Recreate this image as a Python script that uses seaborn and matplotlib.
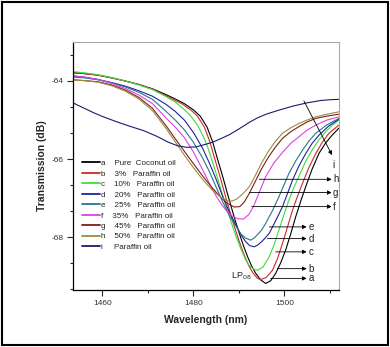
import matplotlib
matplotlib.use('Agg')
import matplotlib.pyplot as plt
import seaborn as sns
from matplotlib.ticker import AutoMinorLocator
from matplotlib.patches import Rectangle

# wavelength (nm) / transmission (dB)

# a  pure coconut oil
wl_a = [1453.5, 1456, 1459, 1462, 1465, 1468, 1471, 1474, 1476, 1478, 1480, 1481.5, 1483, 1484.2,
        1485.3, 1486.4, 1487.4, 1488.3, 1489.2, 1490.1, 1491, 1491.9, 1492.8, 1493.7, 1494.8, 1495.9,
        1497, 1498.1, 1499.2, 1500.3, 1501.4, 1502.5, 1503.6, 1504.7, 1506.1, 1507.6, 1509, 1510.5, 1512]
tr_a = [-63.79, -63.81, -63.85, -63.92, -64.0, -64.09, -64.2, -64.35, -64.46, -64.58, -64.74, -64.9, -65.18, -65.55,
        -66.0, -66.43, -66.85, -67.22, -67.58, -67.91, -68.22, -68.5, -68.74, -68.93, -69.1, -69.19,
        -69.12, -68.93, -68.66, -68.33, -67.92, -67.48, -67.08, -66.71, -66.26, -65.86, -65.6, -65.39, -65.21]

# b  3%
wl_b = [1453.5, 1456, 1459, 1462, 1465, 1468, 1471, 1474, 1476, 1477.4, 1479.4, 1480.9, 1482.4, 1483.6,
        1484.7, 1485.8, 1486.8, 1487.7, 1488.6, 1489.5, 1490.4, 1491.3, 1492.2, 1493.1, 1494, 1494.7,
        1496, 1497.4, 1498.5, 1499.6, 1500.7, 1501.8, 1502.9, 1504, 1505.4, 1506.9, 1508.3, 1509.8, 1512]
tr_b = [-63.79, -63.81, -63.85, -63.92, -64.0, -64.09, -64.21, -64.38, -64.5, -64.58, -64.74, -64.9, -65.18, -65.55,
        -66.0, -66.43, -66.85, -67.22, -67.58, -67.91, -68.22, -68.5, -68.74, -68.92, -69.05, -69.09,
        -69.04, -68.85, -68.55, -68.16, -67.74, -67.31, -66.95, -66.62, -66.22, -65.86, -65.58, -65.34, -65.13]

# c  10%
wl_c = [1453.5, 1456, 1459, 1462, 1465, 1468, 1471, 1474, 1476, 1478, 1479.5, 1481, 1482, 1483,
        1484, 1485, 1486.1, 1487.2, 1488.3, 1489.4, 1490.5, 1491.5, 1492.3, 1493.2, 1494.1, 1495.3,
        1496.7, 1497.8, 1498.8, 1499.9, 1501, 1502.1, 1503.2, 1504.6, 1506.1, 1507.6, 1509.1, 1510.5, 1512]
tr_c = [-63.76, -63.79, -63.84, -63.91, -64.0, -64.1, -64.22, -64.4, -64.54, -64.73, -64.91, -65.15, -65.38, -65.65,
        -66.0, -66.37, -66.8, -67.22, -67.62, -67.99, -68.32, -68.59, -68.73, -68.82, -68.85, -68.77,
        -68.5, -68.18, -67.82, -67.43, -67.05, -66.73, -66.45, -66.08, -65.77, -65.51, -65.3, -65.14, -65.0]

# d  20%
wl_d = [1453.5, 1456, 1459, 1462, 1465, 1468, 1471, 1474, 1476, 1478, 1480, 1482, 1483.5, 1485,
        1486.4, 1487.9, 1489.4, 1490.5, 1491.5, 1492.4, 1493.4, 1494.2, 1495, 1495.9, 1496.7, 1498.1,
        1499.6, 1500.7, 1501.8, 1503.2, 1504.7, 1506.1, 1507.6, 1509.8, 1512]
tr_d = [-63.87, -63.9, -63.96, -64.04, -64.13, -64.25, -64.39, -64.6, -64.78, -65.0, -65.32, -65.72, -66.1, -66.52,
        -66.95, -67.36, -67.7, -67.95, -68.12, -68.22, -68.25, -68.2, -68.12, -68.01, -67.9, -67.58,
        -67.22, -66.88, -66.54, -66.18, -65.86, -65.6, -65.39, -65.15, -64.98]

# e  25%
wl_e = [1453.5, 1456, 1459, 1462, 1465, 1468, 1471, 1474, 1476, 1478, 1480, 1482, 1483.5, 1485,
        1486.4, 1487.9, 1489.4, 1490.5, 1491.5, 1492.6, 1493.3, 1494, 1495, 1495.9, 1497.4, 1498.8,
        1499.9, 1501, 1502.5, 1504, 1505.4, 1506.9, 1509.4, 1512]
tr_e = [-63.9, -63.92, -63.97, -64.05, -64.15, -64.29, -64.47, -64.78, -65.0, -65.25, -65.57, -65.97, -66.32, -66.72,
        -67.09, -67.45, -67.73, -67.93, -68.03, -68.08, -68.03, -67.95, -67.82, -67.65, -67.32, -66.97,
        -66.67, -66.37, -66.05, -65.77, -65.54, -65.34, -65.12, -64.96]

# f  35%
wl_f = [1453.5, 1456, 1459, 1462, 1465, 1468, 1471, 1474, 1476, 1478, 1480, 1482, 1483.5, 1485,
        1486.4, 1487.5, 1488.6, 1489.8, 1491, 1492.2, 1493.2, 1494.5, 1495.9, 1497.7, 1499.6, 1501.4,
        1503.2, 1505, 1506.9, 1509.4, 1512]
tr_f = [-63.87, -63.9, -63.96, -64.06, -64.19, -64.36, -64.58, -64.95, -65.18, -65.45, -65.82, -66.27, -66.62, -66.95,
        -67.2, -67.36, -67.47, -67.53, -67.54, -67.42, -67.22, -66.85, -66.45, -66.1, -65.83, -65.6,
        -65.43, -65.26, -65.13, -65.0, -64.92]

# g  45%
wl_g = [1453.5, 1456, 1459, 1462, 1465, 1468, 1471, 1474, 1476, 1478, 1480, 1482, 1484, 1486,
        1487.5, 1489, 1490.2, 1491.2, 1492.3, 1493.5, 1495, 1496.5, 1498, 1499.6, 1501.4, 1503.2,
        1505, 1506.9, 1509.4, 1512]
tr_g = [-63.97, -63.99, -64.02, -64.1, -64.23, -64.42, -64.7, -65.15, -65.48, -65.8, -66.12, -66.43, -66.72, -66.98,
        -67.14, -67.23, -67.22, -67.1, -66.88, -66.6, -66.25, -65.95, -65.7, -65.47, -65.3, -65.17,
        -65.05, -64.96, -64.9, -64.85]

# h  50%
wl_h = [1453.5, 1456, 1459, 1462, 1465, 1468, 1471, 1474, 1476, 1478, 1480, 1482, 1484, 1486,
        1487.5, 1488.5, 1489.6, 1490.8, 1492.3, 1493.5, 1495, 1496.5, 1498, 1499.6, 1501.4, 1503.2,
        1505, 1506.9, 1509.4, 1512]
tr_h = [-63.97, -63.99, -64.03, -64.12, -64.26, -64.46, -64.76, -65.22, -65.56, -65.9, -66.22, -66.52, -66.78, -66.98,
        -67.07, -67.08, -67.02, -66.9, -66.71, -66.45, -66.1, -65.8, -65.55, -65.34, -65.2, -65.09,
        -65.0, -64.92, -64.85, -64.79]

# i  paraffin oil
wl_i = [1453.5, 1456, 1458, 1460, 1463, 1466, 1469, 1472, 1474.5, 1476.5, 1478.5, 1480.5, 1482.5,
        1484.2, 1486, 1488, 1490, 1492.3, 1494, 1496, 1499, 1502, 1505, 1508, 1510, 1512]
tr_i = [-64.56, -64.7, -64.81, -64.91, -65.04, -65.16, -65.27, -65.42, -65.57, -65.66, -65.7, -65.69, -65.63,
        -65.57, -65.48, -65.37, -65.23, -65.06, -64.95, -64.85, -64.74, -64.64, -64.56, -64.5, -64.48, -64.47]

keys = ['a', 'b', 'c', 'd', 'e', 'f', 'g', 'h', 'i']
names = ['Pure  Coconut oil', '3%   Paraffin oil', '10%   Paraffin oil', '20%   Paraffin oil',
         '25%   Paraffin oil', '35%   Paraffin oil', '45%   Paraffin oil', '50%   Paraffin oil',
         'Paraffin oil']
colors = ['#000000', '#cc2a2a', '#3ddc3d', '#22229c', '#23788a', '#e040e0', '#7c1e1e', '#9c8c3c', '#1c1c6c']

wls = [wl_a, wl_b, wl_c, wl_d, wl_e, wl_f, wl_g, wl_h, wl_i]
trs = [tr_a, tr_b, tr_c, tr_d, tr_e, tr_f, tr_g, tr_h, tr_i]

sns.set_style('ticks')
plt.rcParams['font.family'] = ['Liberation Sans', 'DejaVu Sans']

fig = plt.figure(figsize=(3.9, 3.47), dpi=100)
ax = fig.add_axes([0.187, 0.164, 0.682, 0.715])

labels = []
for k, n, c, wl, tr in zip(keys, names, colors, wls, trs):
    lab = f'{k}     {n}' if k == 'i' else f'{k}    {n}'
    labels.append(lab)
    sns.lineplot(x=wl, y=tr, color=c, lw=0.8, ax=ax, label=lab)

leg = ax.legend(ax.get_lines()[:9], labels, loc='upper left', bbox_to_anchor=(0.033, 0.526),
                frameon=False, fontsize=5.8, handlelength=2.3, handletextpad=0.15,
                labelspacing=0.35, borderpad=0, borderaxespad=0, labelcolor='#222')
for ln in leg.get_lines():
    ln.set_linewidth(1.3)

# arrows to the right of the dips
arr_long = {'h': (1494.5, -66.52), 'g': (1492.3, -66.86), 'f': (1492.8, -67.22)}
arr_short = {'e': (1496.7, -67.74), 'd': (1496.3, -68.04), 'c': (1498.1, -68.38),
             'b': (1498.5, -68.81), 'a': (1497.0, -69.06)}
ap = dict(arrowstyle='-|>', lw=0.6, color='black', mutation_scale=6, shrinkA=0, shrinkB=0)
for k, (x0, y0) in arr_long.items():
    ax.annotate('', xy=(1510.4, y0), xytext=(x0, y0), arrowprops=ap, annotation_clip=False)
    ax.text(1510.7, y0, k, fontsize=7, va='center', ha='left', color='#222', clip_on=False)
for k, (x0, y0) in arr_short.items():
    ax.annotate('', xy=(1504.9, y0), xytext=(x0, y0), arrowprops=ap, annotation_clip=False)
    ax.text(1505.3, y0, k, fontsize=7, va='center', ha='left', color='#222')
ax.annotate('', xy=(1510.5, -65.9), xytext=(1504.3, -64.51), arrowprops=ap, annotation_clip=False)
ax.text(1510.9, -66.15, 'i', fontsize=7, va='center', ha='center', color='#222', clip_on=False)
ax.text(1490.5, -69.0, r'LP$_{08}$', fontsize=6.5, va='center', ha='center', color='#222')

ax.set_xlim(1453.5, 1512)
ax.set_ylim(-69.36, -63.0)
ax.set_xticks([1460, 1480, 1500])
ax.set_yticks([-64, -66, -68])
ax.set_yticklabels(['-64', '-66', '-68'])
ax.xaxis.set_minor_locator(AutoMinorLocator(2))
ax.yaxis.set_minor_locator(AutoMinorLocator(3))
ax.tick_params(which='major', direction='out', length=4, width=0.8, labelsize=6,
               labelcolor='#333', pad=3)
ax.tick_params(which='minor', direction='out', length=2.5, width=0.8)

for s in ['left', 'bottom']:
    ax.spines[s].set_color('black')
    ax.spines[s].set_linewidth(0.9)
for s in ['top', 'right']:
    ax.spines[s].set_color('#aaaaaa')
    ax.spines[s].set_linewidth(0.8)

ax.set_xlabel('Wavelength (nm)', fontsize=7.5, fontweight='bold', labelpad=6)
ax.set_ylabel('Transmission (dB)', fontsize=7.5, fontweight='bold', labelpad=3)

# outer frame around the whole picture
fig.patches.append(Rectangle((0.005, 0.006), 0.99, 0.988, transform=fig.transFigure,
                             fill=False, edgecolor='black', lw=1.5))

fig.savefig('out.png', dpi=100)
